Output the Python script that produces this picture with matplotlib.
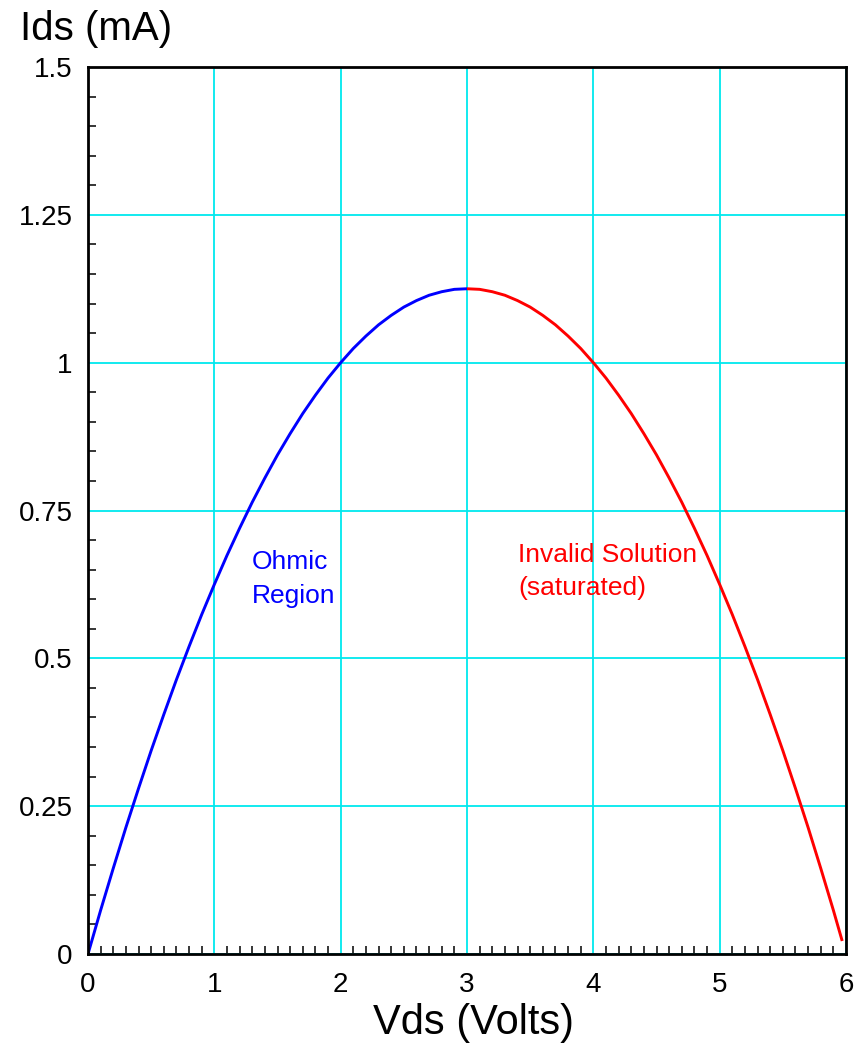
import matplotlib
matplotlib.use("Agg")
import matplotlib.pyplot as plt
from matplotlib.ticker import MultipleLocator

plt.rcParams['font.family'] = ['Liberation Sans', 'DejaVu Sans']

# Ohmic region (blue), Vds in volts, Ids in mA
vds_ohmic = [0.0, 0.1, 0.2, 0.3, 0.4, 0.5, 0.6, 0.7, 0.8, 0.9, 1.0,
             1.1, 1.2, 1.3, 1.4, 1.5, 1.6, 1.7, 1.8, 1.9, 2.0,
             2.1, 2.2, 2.3, 2.4, 2.5, 2.6, 2.7, 2.8, 2.9, 3.0]
ids_ohmic = [0.0, 0.074, 0.145, 0.214, 0.28, 0.344, 0.405, 0.464, 0.52, 0.574, 0.625,
             0.674, 0.72, 0.764, 0.805, 0.844, 0.88, 0.914, 0.945, 0.974, 1.0,
             1.024, 1.045, 1.064, 1.08, 1.094, 1.105, 1.114, 1.12, 1.124, 1.125]

# Invalid (saturated) solution (red)
vds_invalid = [3.0, 3.1, 3.2, 3.3, 3.4, 3.5, 3.6, 3.7, 3.8, 3.9, 4.0,
               4.1, 4.2, 4.3, 4.4, 4.5, 4.6, 4.7, 4.8, 4.9, 5.0,
               5.1, 5.2, 5.3, 5.4, 5.5, 5.6, 5.7, 5.8, 5.9, 5.97]
ids_invalid = [1.125, 1.124, 1.12, 1.114, 1.105, 1.094, 1.08, 1.064, 1.045, 1.024, 1.0,
               0.974, 0.945, 0.914, 0.88, 0.844, 0.805, 0.764, 0.72, 0.674, 0.625,
               0.574, 0.52, 0.464, 0.405, 0.344, 0.28, 0.214, 0.145, 0.074, 0.022]

x_ticks = [0, 1, 2, 3, 4, 5, 6]
x_tick_labels = ["0", "1", "2", "3", "4", "5", "6"]
y_ticks = [0, 0.25, 0.5, 0.75, 1.0, 1.25, 1.5]
y_tick_labels = ["0", "0.25", "0.5", "0.75", "1", "1.25", "1.5"]

fig = plt.figure(figsize=(8.65, 10.45), dpi=100)
ax = fig.add_axes([88/865, 1-954/1045, (846-88)/865, (954-67)/1045])

ax.plot(vds_ohmic, ids_ohmic, color='#0000ff', lw=2.1, zorder=3, solid_capstyle='butt')
ax.plot(vds_invalid, ids_invalid, color='#ff0000', lw=2.1, zorder=3, solid_capstyle='butt')

ax.set_xlim(0, 6)
ax.set_ylim(0, 1.5)
ax.set_xticks(x_ticks)
ax.set_xticklabels(x_tick_labels)
ax.set_yticks(y_ticks)
ax.set_yticklabels(y_tick_labels)
ax.xaxis.set_minor_locator(MultipleLocator(0.1))
ax.yaxis.set_minor_locator(MultipleLocator(0.05))

ax.grid(True, which='major', color='#00e8ee', lw=1.3, zorder=1)
ax.set_axisbelow(True)

ax.tick_params(which='major', direction='in', length=0, labelsize=20, pad=11)
ax.tick_params(axis='x', which='major', pad=13)
ax.tick_params(which='minor', direction='in', length=6, width=1.1, color='black')
ax.tick_params(top=False, right=False, which='both')

for s in ax.spines.values():
    s.set_linewidth(2.0)
    s.set_color('black')
    s.set_zorder(4)

ax.text(1.298, 0.651, "Ohmic", color='#0000ff', fontsize=19, ha='left', va='baseline')
ax.text(1.298, 0.594, "Region", color='#0000ff', fontsize=19, ha='left', va='baseline')
ax.text(3.404, 0.663, "Invalid Solution", color='#ff0000', fontsize=19, ha='left', va='baseline')
ax.text(3.404, 0.607, "(saturated)", color='#ff0000', fontsize=19, ha='left', va='baseline')

fig.text(20/865, 1-40/1045, "Ids (mA)", fontsize=29, ha='left', va='baseline')
fig.text(474/865, 1-1034/1045, "Vds (Volts)", fontsize=30, ha='center', va='baseline')

fig.savefig("out.png", dpi=100, facecolor='white')
